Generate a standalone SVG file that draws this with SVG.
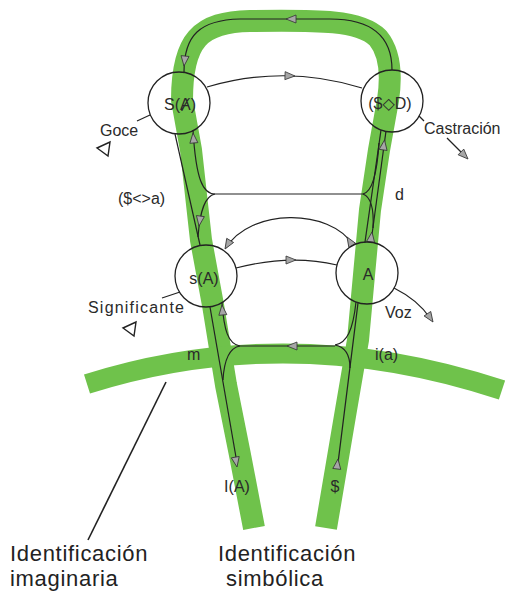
<svg xmlns="http://www.w3.org/2000/svg" xmlns:xlink="http://www.w3.org/1999/xlink" width="509" height="593" viewBox="0 0 509 593">
<style>
.band{fill:none;stroke:#6fc24b;stroke-width:22;stroke-linejoin:round;stroke-linecap:butt}
.ln{fill:none;stroke:#222;stroke-width:1.2}
.node{fill:none;stroke:#222;stroke-width:1.3}
.ah{fill:#a6a6a6;stroke:#333;stroke-width:0.8}
.tri{fill:none;stroke:#222;stroke-width:1.4;stroke-linejoin:miter}
text{font-family:"Liberation Sans","DejaVu Sans",sans-serif;fill:#2a2a2a}
.lab{font-size:16px}
.big{font-size:22px;letter-spacing:0.7px;fill:#222}
</style>
<defs>
<path id="ah" class="ah" d="M0,0 L-10,-4 L-10,4 Z"/>
<path id="tri" class="tri" d="M0,0 L13,-6 L11,8 Z"/>
</defs>
<rect width="509" height="593" fill="#ffffff"/>
<g id="bands">
<path class="band" d="M254 528 L240 455 L226 385 L213 305 L201 240 L191 150 L182 100 C182 40 200 22 250 21 C320 20 360 20 378 38 C392 55 391 80 388 100 L379 150 L370 210 L364 275 L358 340 L346 410 L326 528"/>
<path class="band" style="stroke-width:20" d="M87 384 Q290 320 502 390"/>
</g>
<g id="connectors">
<path class="ln" d="M184 72 C184 35 200 20 240 19 L330 19 C370 19 392 35 392 70"/>
<path class="ln" d="M207 87 Q285 64 362 88"/>
<path class="ln" d="M175 134 L200 245"/>
<path class="ln" d="M215 194 C203 194 196 180 193 130"/>
<path class="ln" d="M215 194 C205 196 200 210 198 237"/>
<path class="ln" d="M215 194 L363 194"/>
<path class="ln" d="M381 130 L365 242"/>
<path class="ln" d="M386 131 L371 242"/>
<path class="ln" d="M363 194 C372 192 377 175 379 143"/>
<path class="ln" d="M363 194 C371 197 374 210 373 228"/>
<path class="ln" d="M353 245 C330 208 250 208 226 248"/>
<path class="ln" d="M236 268 Q290 254 337 265"/>
<path class="ln" d="M210 307 L237 463"/>
<path class="ln" d="M240 346 C228 344 224 330 222 303"/>
<path class="ln" d="M240 346 C228 348 224 362 223 380"/>
<path class="ln" d="M240 346 L335 346"/>
<path class="ln" d="M358 303 L338 463"/>
<path class="ln" d="M335 345 C347 343 353 330 356 302"/>
<path class="ln" d="M335 345 C346 347 350 356 350 368"/>
<path class="ln" d="M394 288 Q418 300 430 318"/>
<path class="ln" d="M447 138 L465 156"/>
<path class="ln" d="M419 116 L424 121"/>
<path class="ln" d="M150 115 L137 121"/>
<path class="ln" d="M180 292 L162 298"/>
<path class="ln" style="stroke-width:1.6" d="M166 382 L88 540"/>
<use xlink:href="#ah" transform="translate(286,19) rotate(180)"/>
<use xlink:href="#ah" transform="translate(184,66) rotate(96)"/>
<use xlink:href="#ah" transform="translate(295,76) rotate(2)"/>
<use xlink:href="#ah" transform="translate(193,133) rotate(-95)"/>
<use xlink:href="#ah" transform="translate(199,226) rotate(98)"/>
<use xlink:href="#ah" transform="translate(384.5,140) rotate(-82)"/>
<use xlink:href="#ah" transform="translate(372,232) rotate(-82)"/>
<use xlink:href="#ah" transform="translate(347,237) rotate(-122)"/>
<use xlink:href="#ah" transform="translate(225,249) rotate(121)"/>
<use xlink:href="#ah" transform="translate(296,260) rotate(0)"/>
<use xlink:href="#ah" transform="translate(287,346) rotate(180)"/>
<use xlink:href="#ah" transform="translate(222,305) rotate(-95)"/>
<use xlink:href="#ah" transform="translate(237,467) rotate(80)"/>
<use xlink:href="#ah" transform="translate(338,459) rotate(-83)"/>
<use xlink:href="#ah" transform="translate(468,159) rotate(45)"/>
<use xlink:href="#ah" transform="translate(433,322) rotate(56)"/>
</g>
<g id="node-SA">
<circle class="node" cx="179" cy="103" r="31"/>
<text class="lab" x="180" y="110" text-anchor="middle">S(Ⱥ)</text>
</g>
<g id="node-SD">
<circle class="node" cx="392" cy="101" r="31"/>
<text class="lab" x="390" y="109" text-anchor="middle">($◇D)</text>
</g>
<g id="node-sA">
<circle class="node" cx="206" cy="276" r="31"/>
<text class="lab" x="204" y="284" text-anchor="middle">s(A)</text>
</g>
<g id="node-A">
<circle class="node" cx="367" cy="273" r="31"/>
<text class="lab" x="368" y="280" text-anchor="middle">A</text>
</g>
<g id="labels">
<text class="lab" x="100" y="136">Goce</text>
<use xlink:href="#tri" transform="translate(97,148)"/>
<text class="lab" x="424" y="134">Castración</text>
<text class="lab" x="118" y="204">($&lt;&gt;a)</text>
<text class="lab" x="395" y="200">d</text>
<text class="lab" x="88" y="313" textLength="96" lengthAdjust="spacing">Significante</text>
<use xlink:href="#tri" transform="translate(123,328)"/>
<text class="lab" x="385" y="318">Voz</text>
<text class="lab" x="187" y="360">m</text>
<text class="lab" x="375" y="360">i(a)</text>
<text class="lab" x="237" y="492" text-anchor="middle">I(A)</text>
<text class="lab" x="335" y="492" text-anchor="middle">$</text>
<text class="big" x="10" y="561">Identificación</text>
<text class="big" x="10" y="586">imaginaria</text>
<text class="big" x="287" y="561" text-anchor="middle">Identificación</text>
<text class="big" x="275" y="586" text-anchor="middle">simbólica</text>
</g>
</svg>
